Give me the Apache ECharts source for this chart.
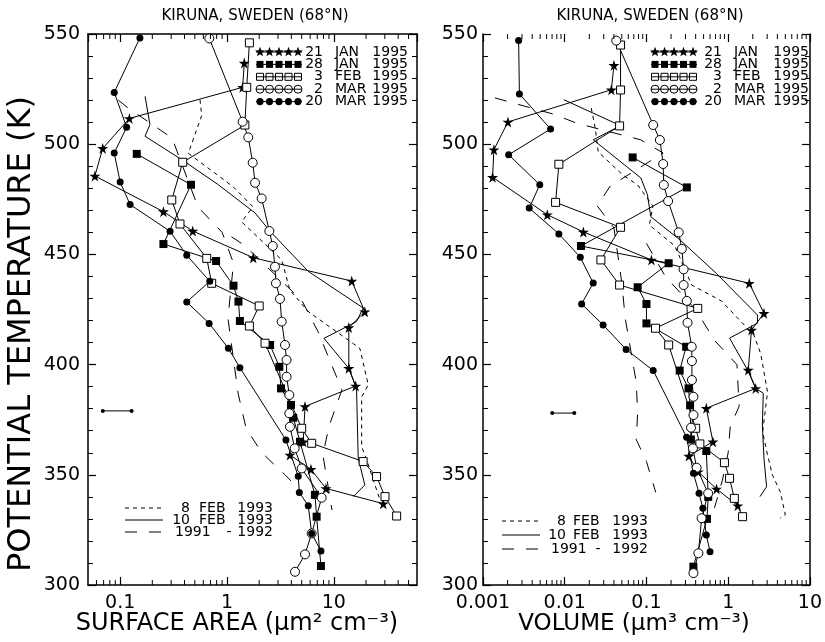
<!DOCTYPE html>
<html><head><meta charset="utf-8">
<script src="https://cdn.jsdelivr.net/npm/echarts@6/dist/echarts.min.js"></script>
<style>html,body{margin:0;padding:0;background:#fff}#c{width:825px;height:642px}</style>
</head><body><div id="c"></div>
<script>
// ---------- DATA (x value, potential temperature K) ----------
// Left panel: surface area (um^2 cm^-3)
var L_JAN21 = [[1.45,536.8],[1.40,525.8],[0.122,511.7],[0.0687,498.1],[0.058,485.6],[0.254,469.4],[0.478,460.6],[1.76,448.5],[14.7,437.9],[19.5,424],[13.8,416.8],[13.8,398.3],[16,390.3],[5.37,381],[5.17,365],[3.88,359],[6.1,352.5],[8.44,343.8],[29,336.9]];
var L_JAN28 = [[0.143,495.6],[0.46,481.6],[0.254,454.7],[0.79,447],[1.15,435.8],[1.28,428.6],[1.32,419.8],[2.53,408.9],[3.09,399],[3.2,389.2],[3.97,381.7],[4.17,375.9],[4.82,365],[6.65,340.9],[6.9,331],[7.57,308.6]];
var L_FEB3 = [[1.62,546],[1.53,525.8],[1.47,508.7],[0.385,491.8],[0.304,474.7],[0.363,463.8],[0.646,448.2],[0.719,436.9],[2.0,426.6],[1.62,417.5],[2.27,409.7],[5.0,371.1],[6.2,364.3],[18.8,356],[25.1,349.2],[30.1,340.1],[38.7,331.3]];
var L_MAR2 = [[0.683,548],[1.40,510.2],[1.58,503.1],[1.74,491.6],[1.83,482.5],[2.11,475.4],[2.49,460.6],[2.68,453.8],[2.81,444.4],[2.87,436.9],[3.13,429.8],[3.25,419.5],[3.49,408.9],[3.61,402.1],[3.61,394.5],[3.83,386.2],[3.83,377.9],[3.88,371.8],[4.3,362],[5.0,352.9],[7.69,339.6],[6.2,323.4],[5.37,313.9],[4.33,306]];
var L_MAR20 = [[0.153,548.2],[0.088,523.5],[0.115,507.7],[0.088,496],[0.10,482.8],[0.124,472.6],[0.293,460.5],[0.42,449.6],[0.69,437.8],[0.42,428.4],[0.68,418.7],[1.03,407.4],[1.32,398.6],[3.56,365.8],[4.64,349.3],[4.75,342],[5.76,336],[6.2,323.4],[7.57,315.4]];
var L_FEB8_93 = [[0.559,520.2],[0.58,513],[0.434,495.9],[1.14,480.7],[1.75,471.6],[1.37,464.8],[3.25,447.5],[3.88,433.8],[5.77,424],[17.5,407.4],[21,390.8],[18.2,385.4],[18.2,362.8],[20.3,356.7],[27,338.6]];
var L_FEB10_93 = [[0.171,521.7],[0.19,508.9],[0.171,503.6],[0.377,493],[0.83,481.6],[1.83,468.8],[2.53,460.5],[5.76,442.3],[18.8,425.7],[16.3,419.5],[8.08,411.9],[13.8,398.3],[16.3,389.2],[16.9,357.5],[19.5,345.4],[15.2,340.1]];
var L_CLIM_A = [[0.096,520],[0.119,516.4],[0.306,502.8],[0.535,471.5],[0.9,460],[1.15,446],[1.02,421],[1.27,387],[1.51,371],[2.12,360],[3.49,350],[4.82,343]];
var L_CLIM_B = [[1.1,458],[1.47,454],[5.03,429],[7.1,415],[11.9,388.5],[9.0,372],[7.9,359],[9.6,334]];
var L_ERR = [[0.0687,379],[0.128,379]];

// Right panel: volume (um^3 cm^-3)
var R_JAN21 = [[0.04,535.8],[0.0372,524.7],[0.00202,510.1],[0.00136,497.5],[0.00131,485],[0.00612,468],[0.0169,460.2],[0.115,447.5],[1.81,436.9],[2.74,423.3],[1.93,415.7],[1.76,397.5],[2.17,389.2],[0.54,380.2],[0.65,365],[0.33,358.5],[0.43,351.4],[0.72,343.6],[1.31,336]];
var R_JAN28 = [[0.0678,494],[0.312,480.4],[0.0158,453.8],[0.187,446],[0.078,435.1],[0.1,427.5],[0.1,418.7],[0.306,408.1],[0.255,397.3],[0.327,389.2],[0.342,381.5],[0.35,366],[0.54,360.8],[0.57,340],[0.55,330],[0.375,308.3]];
var R_FEB3 = [[0.0482,545],[0.0482,524.6],[0.0469,508.3],[0.00848,490.9],[0.00773,473.6],[0.0482,462.3],[0.0277,447.5],[0.0469,436.1],[0.424,425.5],[0.129,416.5],[0.187,408.9],[0.4,371.1],[0.45,364],[0.9,355.5],[1.04,348.4],[1.19,339.3],[1.5,331]];
var R_MAR2 = [[0.0427,547],[0.121,508.7],[0.146,501.9],[0.160,491],[0.163,481.5],[0.184,474.2],[0.248,460],[0.271,452.5],[0.285,443.2],[0.285,436.1],[0.312,428.9],[0.318,419],[0.358,408.1],[0.36,401.6],[0.36,393],[0.376,385.4],[0.376,377.1],[0.351,371.4],[0.37,362],[0.411,353.2],[0.569,341.6],[0.473,330.3],[0.432,314.4],[0.376,305.4]];
var R_MAR20 = [[0.00273,547],[0.00279,522.8],[0.00671,506.9],[0.00206,495.2],[0.00495,481.6],[0.00368,471],[0.00848,459.3],[0.0155,448.7],[0.0223,437],[0.0161,427.5],[0.0295,418],[0.0564,406.9],[0.121,397.3],[0.31,367],[0.376,350.7],[0.44,341.6],[0.49,334.8],[0.54,322.7],[0.6,315.1]];
var R_FEB8_93 = [[0.0211,516.4],[0.0236,507.4],[0.0257,496.5],[0.0514,486],[0.078,481.5],[0.12,472],[0.1086,463.3],[0.223,453.8],[0.358,436.1],[0.824,428.9],[2.06,413.4],[2.5,405],[3.03,387.6],[2.64,369.4],[3.03,359],[3.48,349.9],[4.35,342.2],[5.0,331.8],[4.35,330.4]];
var R_FEB10_93 = [[0.00973,520.2],[0.0482,508.4],[0.0223,502],[0.0853,484.7],[0.1028,477.1],[0.113,467.1],[0.259,456.5],[0.716,441.4],[2.28,422.5],[2.28,418.8],[1.04,412],[1.73,397.5],[2.17,389.2],[2.69,387],[2.62,372.6],[2.74,357.5],[2.95,344.6],[2.45,340.1]];
var R_CLIM_A = [[0.0014,521],[0.0075,513.5],[0.014,509.5],[0.085,502],[0.16,496],[0.036,481],[0.025,472],[0.04,462],[0.05,437],[0.055,421],[0.075,392],[0.078,378],[0.075,366],[0.1,356],[0.13,342]];
var R_CLIM_B = [[0.1,455],[0.17,440],[0.4,425],[0.68,411],[1.28,400],[1.36,381],[1.06,372],[1.0,360],[0.85,347.6],[0.68,335]];
var R_ERR = [[0.00703,378],[0.0131,378]];

// Axis settings / labels
var Y_MIN = 300, Y_MAX = 550, Y_STEP = 50;
var L_XMIN = 0.05, L_XMAX = 60;
var R_XMIN = 0.001, R_XMAX = 10;
var TITLE = 'KIRUNA, SWEDEN (68°N)';
var Y_NAME = 'POTENTIAL TEMPERATURE (K)';
var L_XNAME = 'SURFACE AREA (\u03bcm\u00b2 cm\u207b\u00b3)';
var R_XNAME = 'VOLUME (\u03bcm\u00b3 cm\u207b\u00b3)';
var LEG1 = [['star','21','JAN','1995'],['fsq','28','JAN','1995'],['osq','3','FEB','1995'],['oc','2','MAR','1995'],['fc','20','MAR','1995']];
var LEG2 = [['short','8','FEB','1993'],['solid','10','FEB','1993'],['long','1991','-','1992']];

// ---------- CHART ----------
var FONT = '"DejaVu Sans", sans-serif';
var STAR = 'path://M50,0 L61,35 L98,35 L68,57 L79,91 L50,70 L21,91 L32,57 L2,35 L39,35 Z';
var chart = echarts.init(document.getElementById('c'));

function yAx(grid, pos, labels, margin) {
  return {type:'value', gridIndex:grid, position:pos, min:Y_MIN, max:Y_MAX, interval:Y_STEP,
    axisLine:{show:true, lineStyle:{color:'#000', width:1.5}},
    axisTick:{show:true, inside:true, length:8, lineStyle:{color:'#000', width:1.2}},
    minorTick:{show:true, splitNumber:5, length:5, lineStyle:{color:'#000', width:1}},
    splitLine:{show:false}, minorSplitLine:{show:false},
    axisLabel:{show:labels, color:'#000', fontSize:19, fontFamily:FONT, margin:margin}};
}
function xAx(grid, pos, min, max, labels, line, showEnds) {
  return {type:'log', logBase:10, gridIndex:grid, position:pos, min:min, max:max,
    axisLine:{show:line, lineStyle:{color:'#000', width:1.5}},
    axisTick:{show:true, inside:true, length:8, lineStyle:{color:'#000', width:1.2}},
    splitLine:{show:false},
    axisLabel:{show:labels, color:'#000', fontSize:19, fontFamily:FONT, margin:9,
      showMinLabel:showEnds, showMaxLabel:showEnds,
      formatter:function(v){ return String(+v.toPrecision(3)); }}};
}
function minorVals(min, max) {
  var out = [];
  for (var e = Math.floor(Math.log10(min)); e <= Math.ceil(Math.log10(max)); e++) {
    for (var k = 2; k <= 9; k++) { var v = k * Math.pow(10, e); v = +v.toPrecision(3); if (v > min && v < max) out.push([v, Y_MIN]); }
  }
  return out;
}
function tickSeries(xi, yi, min, max) {
  return {type:'custom', xAxisIndex:xi, yAxisIndex:yi, silent:true, clip:false, z:10,
    data:minorVals(min, max), encode:{x:0, y:1},
    renderItem:function(params, api){
      var v = api.value(0);
      var b = api.coord([v, Y_MIN]), t = api.coord([v, Y_MAX]);
      return {type:'group', children:[
        {type:'line', shape:{x1:b[0], y1:b[1], x2:b[0], y2:b[1]-5}, style:{stroke:'#000', lineWidth:1}},
        {type:'line', shape:{x1:t[0], y1:t[1], x2:t[0], y2:t[1]+5}, style:{stroke:'#000', lineWidth:1}}
      ]};
    }};
}
var MK = {
  star:{symbol:STAR, size:11, item:{color:'#000'}},
  fsq:{symbol:'rect', size:8, item:{color:'#000'}},
  osq:{symbol:'rect', size:8, item:{color:'#fff', borderColor:'#000', borderWidth:1}},
  oc:{symbol:'circle', size:9, item:{color:'#fff', borderColor:'#000', borderWidth:1}},
  fc:{symbol:'circle', size:7, item:{color:'#000'}}
};
function markSeries(name, data, xi, yi, kind) {
  var m = MK[kind];
  return {name:name, type:'line', xAxisIndex:xi, yAxisIndex:yi, data:data, symbol:m.symbol, symbolSize:m.size,
    showAllSymbol:true, itemStyle:m.item, lineStyle:{color:'#000', width:1}, z:3, clip:false};
}
var DASH = {short:[4,4], solid:'solid', long:[12,12]};
function lineSeries(name, data, xi, yi, style) {
  return {name:name, type:'line', xAxisIndex:xi, yAxisIndex:yi, data:data, symbol:'none',
    lineStyle:{color:'#000', width:1, type:DASH[style]}, z:2, clip:false};
}
function errSeries(data, xi, yi) {
  return {type:'line', xAxisIndex:xi, yAxisIndex:yi, data:data, symbol:'circle', symbolSize:4,
    itemStyle:{color:'#000'}, lineStyle:{color:'#000', width:1}, z:3};
}

// ---------- GRAPHIC (titles, legends) ----------
var G = [];
function txt(x, y, s, size, align, rot) {
  G.push({type:'text', x:x, y:y, rotation:rot || 0, silent:true,
    style:{text:s, font:size + 'px ' + FONT, fill:'#000', align:align || 'left', verticalAlign:'middle'}});
}
function sym(kind, cx, cy) {
  if (kind === 'star') {
    var pts = [];
    for (var k = 0; k < 10; k++) { var a = -Math.PI/2 + k*Math.PI/5, r = k % 2 ? 2.2 : 5.2; pts.push([cx + r*Math.cos(a), cy + r*Math.sin(a)]); }
    G.push({type:'polygon', shape:{points:pts}, style:{fill:'#000'}, silent:true});
  } else if (kind === 'fsq' || kind === 'osq') {
    G.push({type:'rect', shape:{x:cx-3.5, y:cy-3.5, width:7, height:7}, silent:true,
      style: kind === 'fsq' ? {fill:'#000'} : {fill:'none', stroke:'#000', lineWidth:1}});
  } else {
    G.push({type:'circle', shape:{cx:cx, cy:cy, r: kind === 'fc' ? 3.6 : 4}, silent:true,
      style: kind === 'fc' ? {fill:'#000'} : {fill:'none', stroke:'#000', lineWidth:1}});
  }
}
function markerLegend(x0, x1, dayR, monL, yearR, y0) {
  LEG1.forEach(function(r, i) {
    var y = y0 + i * 12.4;
    G.push({type:'line', shape:{x1:x0, y1:y, x2:x1, y2:y}, style:{stroke:'#000', lineWidth:1}, silent:true});
    for (var j = 0; j < 5; j++) sym(r[0], x0 + 4 + j * (x1 - x0 - 8) / 4, y);
    txt(dayR, y, r[1], 14, 'right');
    txt(monL, y, r[2], 14, 'left');
    txt(yearR, y, r[3], 14, 'right');
  });
}
function lineLegend(x0, x1, dayR, monL, dashC, yearR, ys) {
  LEG2.forEach(function(r, i) {
    var y = ys[i];
    G.push({type:'line', shape:{x1:x0, y1:y, x2:x1, y2:y}, silent:true,
      style:{stroke:'#000', lineWidth:1, lineDash: r[0] === 'solid' ? null : DASH[r[0]]}});
    if (r[0] === 'long') {
      txt(dayR - 15, y, r[1], 14, 'left');
      txt(dashC, y, r[2], 14, 'center');
    } else {
      txt(dayR, y, r[1], 14, 'right');
      txt(monL, y, r[2], 14, 'left');
    }
    txt(yearR, y, r[3], 14, 'right');
  });
}
txt(255, 16, TITLE, 15, 'center');
txt(650, 16, TITLE, 15, 'center');
txt(22, 334, Y_NAME, 32, 'center', Math.PI / 2);
txt(237, 624, L_XNAME, 24, 'center');
txt(634, 624, R_XNAME, 23, 'center');
markerLegend(256, 302, 323, 335, 408, 52);
markerLegend(651, 697, 722, 734, 809, 52);
lineLegend(125, 163, 190, 199, 229, 273, [508, 520, 532]);
lineLegend(502, 540, 566, 573, 598, 648, [521, 535, 549]);

var option = {
  animation:false,
  backgroundColor:'#fff',
  grid:[{left:88, right:408, top:34, bottom:57}, {left:483, right:10, top:34, bottom:57}],
  xAxis:[xAx(0,'bottom',L_XMIN,L_XMAX,true,true,false), xAx(0,'top',L_XMIN,L_XMAX,false,true,false),
         xAx(1,'bottom',R_XMIN,R_XMAX,true,true,true), xAx(1,'top',R_XMIN,R_XMAX,false,false,true)],
  yAxis:[yAx(0,'left',true,8), yAx(0,'right',false,8), yAx(1,'left',true,5), yAx(1,'right',false,5)],
  series:[
    tickSeries(0,0,L_XMIN,L_XMAX), tickSeries(2,2,R_XMIN,R_XMAX),
    lineSeries('8 FEB 1993', L_FEB8_93, 0,0,'short'), lineSeries('10 FEB 1993', L_FEB10_93, 0,0,'solid'),
    lineSeries('1991 - 1992', L_CLIM_A, 0,0,'long'), lineSeries('1991 - 1992 b', L_CLIM_B, 0,0,'long'),
    markSeries('21 JAN 1995', L_JAN21, 0,0,'star'), markSeries('28 JAN 1995', L_JAN28, 0,0,'fsq'),
    markSeries('3 FEB 1995', L_FEB3, 0,0,'osq'), markSeries('2 MAR 1995', L_MAR2, 0,0,'oc'),
    markSeries('20 MAR 1995', L_MAR20, 0,0,'fc'), errSeries(L_ERR, 0,0),
    lineSeries('8 FEB 1993', R_FEB8_93, 2,2,'short'), lineSeries('10 FEB 1993', R_FEB10_93, 2,2,'solid'),
    lineSeries('1991 - 1992', R_CLIM_A, 2,2,'long'), lineSeries('1991 - 1992 b', R_CLIM_B, 2,2,'long'),
    markSeries('21 JAN 1995', R_JAN21, 2,2,'star'), markSeries('28 JAN 1995', R_JAN28, 2,2,'fsq'),
    markSeries('3 FEB 1995', R_FEB3, 2,2,'osq'), markSeries('2 MAR 1995', R_MAR2, 2,2,'oc'),
    markSeries('20 MAR 1995', R_MAR20, 2,2,'fc'), errSeries(R_ERR, 2,2)
  ],
  graphic:G
};
chart.setOption(option);
</script></body></html>
